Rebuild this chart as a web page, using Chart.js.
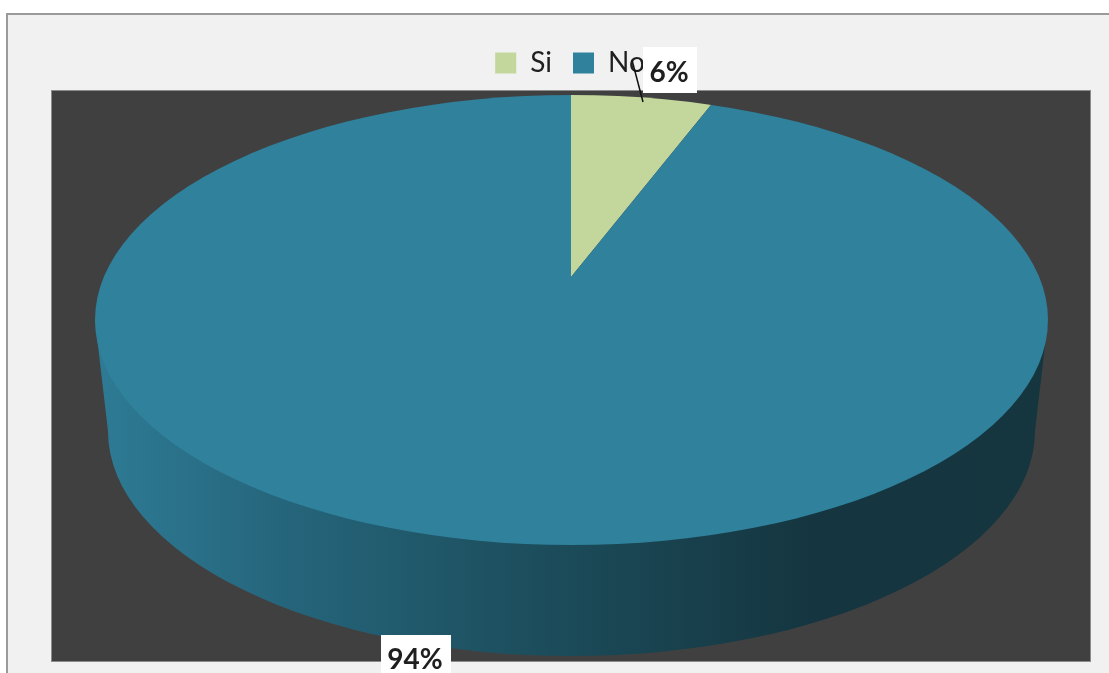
<!DOCTYPE html>
<html>
<head>
<meta charset="utf-8">
<title>Si / No</title>
<script src="https://cdn.jsdelivr.net/npm/chart.js@4"></script>
<style>
  html, body { margin: 0; padding: 0; background: #fff; overflow: hidden; }
  #wrap { width: 1109px; height: 673px; position: relative; }
</style>
</head>
<body>
<div id="wrap"><canvas id="chart" width="1109" height="673"></canvas></div>
<script>
const categories = ['Si', 'No'];
const percentValues = [6, 94];
const sliceColors = ['#c3d69b', '#2f819c'];

// top face of the tilted pie, and the smaller rim underneath it
const face = { x: 571.5, y: 320, rx: 476.5, ry: 225 };
const rim = { x: 571.5, y: 431, rx: 463.5, ry: 225 };
// the vanishing point of the slices sits above the middle of the face
const slices = { x: 571, y: 277, sx: 600, sy: 292 };

function ellipsePath(ctx, e) {
  ctx.beginPath();
  ctx.ellipse(e.x, e.y, e.rx, e.ry, 0, 0, Math.PI * 2);
}

function drawLabel(ctx, text, box, cx, cy) {
  ctx.fillStyle = '#fff';
  ctx.fillRect(box.x, box.y, box.w, box.h);
  ctx.fillStyle = '#1f1f1f';
  ctx.font = 'bold 28px Lato';
  ctx.textAlign = 'center';
  ctx.textBaseline = 'middle';
  ctx.fillText(text, cx, cy);
}

const pieDepth = {
  id: 'pieDepth',
  beforeDraw(chart) {
    const ctx = chart.ctx;
    ctx.save();
    // outer panel
    ctx.fillStyle = '#fff';
    ctx.fillRect(0, 0, chart.width, chart.height);
    ctx.fillStyle = '#f1f1f1';
    ctx.fillRect(7, 14, chart.width - 7, chart.height - 14);
    ctx.strokeStyle = '#9a9a9a';
    ctx.lineWidth = 2;
    ctx.beginPath();
    ctx.moveTo(7, chart.height);
    ctx.lineTo(7, 14);
    ctx.lineTo(chart.width, 14);
    ctx.stroke();
    // plot area
    ctx.fillStyle = '#404040';
    ctx.fillRect(52, 91, 1038, 570);
    ctx.strokeStyle = '#8c8c8c';
    ctx.lineWidth = 1;
    ctx.strokeRect(51.5, 90.5, 1039, 571);
    ctx.restore();
  },
  beforeDatasetsDraw(chart) {
    const ctx = chart.ctx;
    const arc = chart.getDatasetMeta(0).data[0];
    const R = arc.outerRadius;
    // side wall of the pie
    const wall = ctx.createLinearGradient(face.x - face.rx, 0, face.x + face.rx, 0);
    wall.addColorStop(0, '#2e7b95');
    wall.addColorStop(0.2, '#25657b');
    wall.addColorStop(0.5, '#1b4a58');
    wall.addColorStop(0.75, '#153640');
    wall.addColorStop(1, '#15353f');
    ctx.save();
    ctx.fillStyle = wall;
    ctx.beginPath();
    ctx.moveTo(face.x - face.rx, face.y);
    ctx.lineTo(rim.x - rim.rx, rim.y);
    ctx.ellipse(rim.x, rim.y, rim.rx, rim.ry, 0, Math.PI, 0, true);
    ctx.lineTo(face.x + face.rx, face.y);
    ctx.closePath();
    ctx.fill();
    ctx.restore();
    // slices are squashed onto the face and trimmed by its outline
    ctx.save();
    ellipsePath(ctx, face);
    ctx.clip();
    ctx.translate(slices.x, slices.y);
    ctx.scale(slices.sx / R, slices.sy / R);
    ctx.translate(-arc.x, -arc.y);
  },
  afterDatasetsDraw(chart) {
    chart.ctx.restore();
  },
  afterDraw(chart) {
    const ctx = chart.ctx;
    ctx.save();
    ctx.strokeStyle = '#111';
    ctx.lineWidth = 1.5;
    ctx.beginPath();
    ctx.moveTo(632, 60);
    ctx.lineTo(643, 102);
    ctx.stroke();
    drawLabel(ctx, percentValues[0] + '%', { x: 643, y: 47, w: 54, h: 46 }, 669, 73);
    drawLabel(ctx, percentValues[1] + '%', { x: 381, y: 635, w: 70, h: 38 }, 415, 660);
    ctx.restore();
  }
};

new Chart(document.getElementById('chart'), {
  type: 'pie',
  data: {
    labels: categories,
    datasets: [{
      data: percentValues,
      backgroundColor: sliceColors,
      borderWidth: 0
    }]
  },
  plugins: [pieDepth],
  options: {
    responsive: false,
    animation: false,
    layout: { padding: { top: 28, left: 31 } },
    plugins: {
      tooltip: { enabled: false },
      legend: {
        position: 'top',
        labels: {
          boxWidth: 21,
          boxHeight: 21,
          padding: 21,
          color: '#1f1f1f',
          font: { family: 'Lato', size: 28 }
        }
      }
    }
  }
});
</script>
</body>
</html>
